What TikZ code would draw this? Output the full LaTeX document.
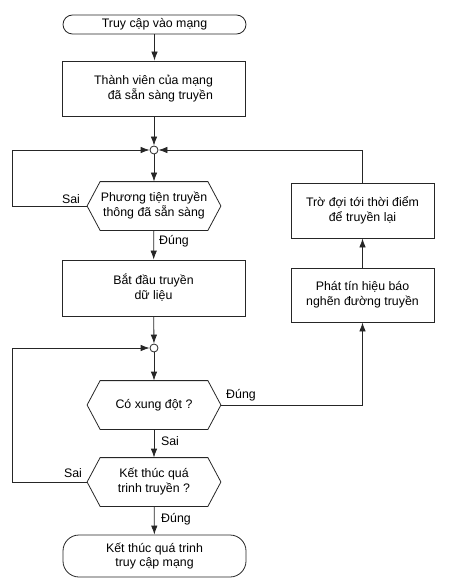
\documentclass[tikz,border=0pt]{standalone}
\usepackage{fontspec}
\setmainfont{Liberation Sans}
\usetikzlibrary{arrows.meta,calc}
\newcommand\hexdraw[1]{\draw (#1.west) -- ($(#1.north west)+(13,0)$) -- ($(#1.north east)+(-13,0)$) -- (#1.east) -- ($(#1.south east)+(-13,0)$) -- ($(#1.south west)+(13,0)$) -- cycle;}
\begin{document}
\begin{tikzpicture}[x=1bp,y=-1bp,
  font=\fontsize{12.4}{15}\selectfont,
  line width=0.8bp, draw=black!85,
  box/.style={draw, minimum width=183bp, minimum height=55bp, align=center, inner sep=0pt},
  sidebox/.style={draw, minimum width=143bp, minimum height=55bp, align=center, inner sep=0pt},
  hexbox/.style={minimum width=133bp, minimum height=48bp, align=center, inner sep=0pt},
  term/.style={draw, minimum width=183bp, align=center, inner sep=0pt},
  junc/.style={circle, draw, fill=white, minimum size=8bp, inner sep=0pt},
  arr/.style={-{Latex[length=9bp,width=6.5bp]}},
  lbl/.style={inner sep=0pt}]
\useasboundingbox (0,0) rectangle (449,581);
\node[term, rounded corners=9.5bp, minimum height=19bp] (start) at (154.5,24.5) {Truy cập vào mạng};
\node[box, align=right] (b1) at (153.5,88.5) {Thành viên của mạng\\đã sẵn sàng truyền};
\node[junc] (j1) at (154,150) {};
\node[hexbox] (h1) at (154,206) {Phương tiện truyền\\thông đã sẵn sàng};
\node[box, minimum height=56bp] (b2) at (153.5,288) {Bắt đầu truyền\\dữ liệu};
\node[junc] (j2) at (154,348) {};
\node[hexbox] (h2) at (154,405) {Có xung đột ?};
\node[hexbox] (h3) at (154,482) {Kết thúc quá\\trinh truyền ?};
\node[term, rounded corners=16bp, minimum height=42bp] (end) at (154.5,556) {Kết thúc quá trinh\\truy cập mạng};
\node[sidebox] (w) at (362.5,210.5) {Trờ đợi tới thời điểm\\để truyền lại};
\node[sidebox, minimum height=54bp] (p) at (362.5,295) {Phát tín hiệu báo\\nghẽn đường truyền};
\hexdraw{h1}
\hexdraw{h2}
\hexdraw{h3}
\coordinate (lx) at (12,0);
\draw[arr] (start) -- (start |- b1.north);
\draw[arr] (j1 |- b1.south) -- (j1);
\draw[arr] (j1) -- (h1);
\draw[arr] (h1) -- (b2);
\draw[arr] (h1.west) -- (h1.west -| lx) |- (j1);
\draw[arr] (w.north) |- (j1);
\draw[arr] (p.north) -- (w.south);
\draw[arr] (b2) -- (j2);
\draw[arr] (j2) -- (h2);
\draw[arr] (h2) -- (h3);
\draw[arr] (h2.east) -| (p.south);
\draw[arr] (h3) -- (end);
\draw[arr] (h3.west) -- (h3.west -| lx) |- (j2);
\node[lbl] (s1) at (71,199) {Sai};
\node[lbl] (d1) at (174,241) {Đúng};
\node[lbl] (d2) at (241,395) {Đúng};
\node[lbl] (s2) at (170,441) {Sai};
\node[lbl] (s3) at (73,473) {Sai};
\node[lbl] (d3) at (176,519) {Đúng};
\end{tikzpicture}
\end{document}
